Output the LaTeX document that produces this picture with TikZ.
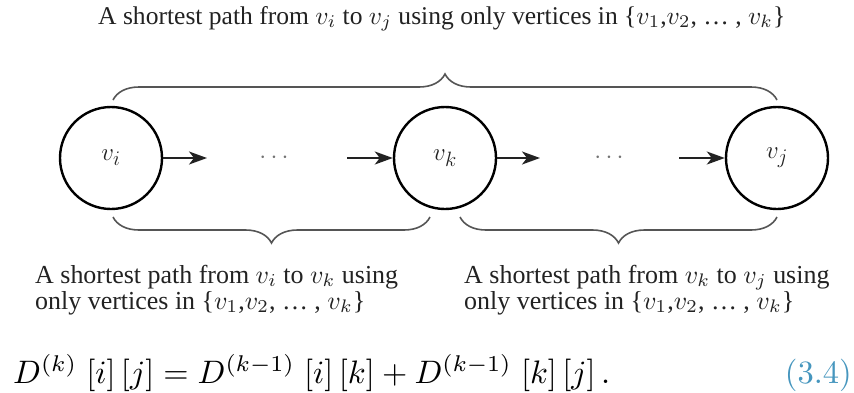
\documentclass[tikz,border=0pt]{standalone}
\usepackage{graphicx}
\usepackage{fontspec}
\setmainfont{Liberation Serif}
\usetikzlibrary{decorations.pathreplacing,arrows.meta}
\definecolor{txt}{HTML}{222222}
\definecolor{brc}{HTML}{555555}
\definecolor{eqno}{RGB}{70,150,190}
\newcommand{\VSet}{\{$v_1$,$v_2$, \ldots\ , $v_k$\}}
\newcommand{\LineTop}{A shortest path from $v_i$ to $v_j$ using only vertices in \VSet}
\newcommand{\LineLa}{A shortest path from $v_i$ to $v_k$ using}
\newcommand{\LineRa}{A shortest path from $v_k$ to $v_j$ using}
\newcommand{\LineB}{only vertices in \VSet}
\newcommand{\EqText}{$D^{(k)}\;[i]\,[j]=D^{(k-1)}\;[i]\,[k]+D^{(k-1)}\;[k]\,[j]\,.$}
\newlength\LwA
\newlength\LwE
\begin{document}
\settowidth\LwA{\LineLa}
\settowidth\LwE{\EqText}
\pgfmathsetmacro\facB{363/\LwA}
\pgfmathsetmacro\facE{597/\LwE}
\begin{tikzpicture}[x=1pt,y=-1pt,
  vert/.style={draw=black,line width=2.4pt,circle,minimum size=102pt,inner sep=0pt,
    font=\fontsize{30}{34}\selectfont,text=txt},
  arr/.style={draw=txt,line width=2pt,-{Stealth[length=18pt,width=13pt,inset=5pt]}},
  brace/.style={draw=brc,line width=1.6pt,decorate,decoration={brace,amplitude=26pt}},
  mbrace/.style={draw=brc,line width=1.6pt,decorate,decoration={brace,amplitude=26pt,mirror}},
  dots/.style={text=black!55,font=\fontsize{30}{34}\selectfont,inner sep=0pt},
  lbl/.style={text=txt,inner sep=0pt,anchor=base west}]
\useasboundingbox (0,0) rectangle (854,392);
% top text
\node[lbl] (top) at (98,24) {\resizebox{687pt}{!}{\LineTop}};
% vertices
\node[vert] (vi) at (111,158) {$v_i$};
\node[vert] (vk) at (445,158) {$v_k$};
\node[vert] (vj) at (777,158) {$v_j$};
% dots
\node[dots] (d1) at (274,158) {$\cdots$};
\node[dots] (d2) at (609,158) {$\cdots$};
% arrows
\coordinate (a1) at (207,158);
\coordinate (a2) at (347,158);
\coordinate (a3) at (540,158);
\coordinate (a4) at (679,158);
\draw[arr] (vi.east) -- (a1);
\draw[arr] (a2) -- (vk.west);
\draw[arr] (vk.east) -- (a3);
\draw[arr] (a4) -- (vj.west);
% braces
\coordinate (tb1) at (113,100);
\coordinate (tb2) at (777,100);
\draw[brace] (tb1) -- (tb2);
\coordinate (lb1) at (113,217);
\coordinate (lb2) at (430,217);
\draw[mbrace] (lb1) -- (lb2);
\coordinate (rb1) at (460,217);
\coordinate (rb2) at (777,217);
\draw[mbrace] (rb1) -- (rb2);
% bottom texts
\node[lbl] (la) at (35,283) {\scalebox{\facB}{\LineLa}};
\node[lbl] (lb) at (35,309) {\scalebox{\facB}{\LineB}};
\node[lbl] (ra) at (464,283) {\scalebox{\facB}{\LineRa}};
\node[lbl] (rb) at (464,309) {\scalebox{\facB}{\LineB}};
% equation
\node[lbl,text=black] (eq) at (13,383) {\scalebox{\facE}{\EqText}};
\node[inner sep=0pt,anchor=base east,text=eqno] (no) at (852,383) {\scalebox{\facE}{\fontspec{Latin Modern Roman}(3.4)}};
\end{tikzpicture}
\end{document}
